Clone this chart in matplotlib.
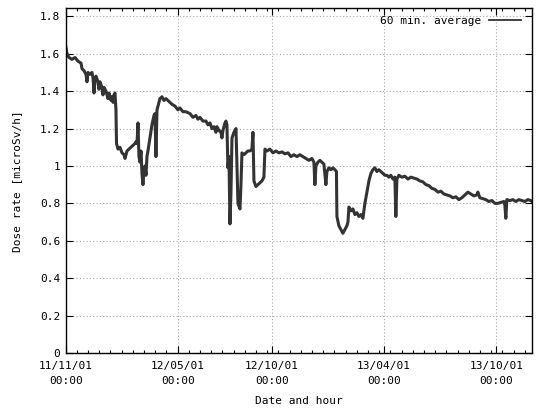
import numpy as np
import pandas as pd
import matplotlib
matplotlib.use("Agg")
import matplotlib.pyplot as plt
import matplotlib.dates as mdates
from matplotlib.ticker import FixedLocator

# days since the start date, and dose rate
start = "2011-11-01"
days = [0.0, 2.1, 5.4, 10.2, 15.1, 20.0, 24.9, 26.5, 29.7, 33.0, 34.6, 36.2, 39.5,
        42.7, 44.4, 46.0, 47.6, 49.2, 52.5, 54.1, 55.7, 59.0, 60.6, 62.2, 65.5, 68.7,
        70.4, 73.6, 75.2, 76.9, 78.5, 80.1, 81.7, 82.6, 85.0, 88.2, 91.5, 94.7, 96.4,
        99.6, 102.9, 106.1, 109.4, 112.6, 114.2, 115.9, 117.5, 119.1, 120.7, 122.4,
        124.0, 125.6, 127.2, 128.9, 130.5, 132.1, 133.7, 137.0, 140.2, 143.5, 145.1,
        146.7, 148.4, 150.0, 153.2, 156.5, 159.7, 163.0, 166.2, 169.5, 172.7, 177.6,
        182.5, 185.7, 190.6, 195.5, 202.0, 206.9, 211.7, 215.0, 218.2, 223.1, 228.0,
        231.2, 234.5, 237.7, 241.0, 244.2, 245.9, 249.1, 252.4, 254.0, 255.6, 258.9,
        260.5, 262.1, 263.7, 265.4, 267.0, 268.6, 270.3, 273.5, 276.8, 278.4, 280.0,
        283.3, 284.9, 286.5, 289.7, 293.0, 296.2, 299.5, 302.7, 304.4, 306.0, 309.2,
        312.5, 315.7, 319.0, 320.6, 322.2, 323.9, 327.1, 332.0, 336.9, 341.8, 346.6,
        351.5, 356.4, 361.3, 366.1, 371.0, 375.9, 380.7, 385.6, 390.5, 395.4, 400.2,
        403.5, 405.1, 406.7, 410.0, 413.2, 416.5, 419.7, 423.0, 424.6, 427.9, 431.1,
        434.4, 437.6, 440.1, 440.9, 444.1, 447.4, 450.6, 453.9, 457.1, 458.8, 460.4,
        463.6, 466.9, 470.1, 473.4, 476.6, 479.9, 483.1, 486.4, 489.6, 492.9, 496.1,
        499.4, 502.6, 505.9, 509.1, 512.4, 515.6, 518.9, 522.1, 525.4, 528.6, 531.9,
        535.1, 536.7, 538.4, 541.6, 546.5, 551.4, 556.3, 561.1, 566.0, 570.9, 575.8,
        580.6, 585.5, 590.4, 595.3, 600.1, 605.0, 609.9, 614.8, 619.6, 624.5, 629.4,
        634.3, 639.1, 644.0, 648.9, 653.8, 658.6, 663.5, 668.4, 670.0, 673.3, 678.1,
        683.0, 687.9, 692.8, 697.6, 702.5, 707.4, 712.3, 713.9, 715.5, 717.1, 722.0,
        726.9, 731.8, 736.6, 741.5, 746.4, 751.3, 756.1, 758.0]
dose = [1.64, 1.60, 1.58, 1.57, 1.58, 1.56, 1.55, 1.52, 1.51, 1.49, 1.45, 1.50, 1.49,
        1.50, 1.47, 1.39, 1.46, 1.48, 1.45, 1.41, 1.45, 1.42, 1.38, 1.42, 1.40, 1.36,
        1.39, 1.35, 1.37, 1.34, 1.38, 1.39, 1.30, 1.12, 1.09, 1.10, 1.07, 1.06, 1.04,
        1.08, 1.09, 1.10, 1.11, 1.12, 1.13, 1.12, 1.23, 1.05, 1.02, 1.08,
        0.96, 0.90, 0.98, 1.00, 0.95, 1.05, 1.08, 1.15, 1.22, 1.27, 1.28,
        1.05, 1.30, 1.32, 1.36, 1.37, 1.35, 1.36, 1.35, 1.34, 1.33, 1.32,
        1.30, 1.31, 1.29, 1.29, 1.28, 1.26, 1.27, 1.25, 1.26, 1.24, 1.24,
        1.22, 1.23, 1.20, 1.21, 1.18, 1.21, 1.19, 1.18, 1.15, 1.19, 1.23,
        1.24, 1.22, 0.99, 1.05, 0.69, 0.85, 1.15, 1.18, 1.20, 1.00, 0.80,
        0.77, 0.90, 1.07, 1.06, 1.07, 1.08, 1.08, 1.09, 1.18, 0.92, 0.89,
        0.90, 0.91, 0.92, 0.93, 0.94, 1.09, 1.08, 1.09, 1.07, 1.08, 1.07,
        1.075, 1.065, 1.07, 1.05, 1.06, 1.05, 1.06, 1.05, 1.04, 1.03, 1.04,
        1.02, 0.90, 1.00, 1.02, 1.03, 1.02, 1.01, 0.90, 0.97, 0.99, 0.98,
        0.99, 0.98, 0.97, 0.73, 0.68, 0.66, 0.64, 0.66, 0.68, 0.70,
        0.78, 0.76, 0.77, 0.74, 0.75, 0.73, 0.74, 0.72, 0.80, 0.86, 0.92, 0.96,
        0.98, 0.99, 0.97, 0.98, 0.97, 0.96, 0.95, 0.95, 0.94, 0.95, 0.93,
        0.94, 0.73, 0.93, 0.95, 0.94, 0.945, 0.93, 0.94, 0.935, 0.93, 0.92,
        0.915, 0.90, 0.895, 0.88, 0.875, 0.86, 0.865, 0.85, 0.845, 0.84, 0.83,
        0.835, 0.82, 0.83, 0.845, 0.86, 0.85, 0.84, 0.845, 0.86, 0.83, 0.825,
        0.82, 0.81, 0.815, 0.80, 0.80, 0.805, 0.81, 0.79, 0.72, 0.82,
        0.815, 0.82, 0.81, 0.82, 0.815, 0.81, 0.82, 0.815, 0.81]

major_dates = ["2011-11-01", "2012-05-01", "2012-10-01", "2013-04-01", "2013-10-01"]
end_days = 758
minor_step_days = 18.2

t0 = pd.Timestamp(start)
times = t0 + pd.to_timedelta(np.array(days), unit="D")

plt.rcParams["font.family"] = ["DejaVu Sans Mono"]
plt.rcParams["font.size"] = 8

fig = plt.figure(figsize=(5.39, 4.09), dpi=100)
ax = fig.add_axes([0.1219, 0.137, 0.8651, 0.8427])

ax.plot(times, dose, color="#333333", linewidth=2.2, label="60 min. average")

ax.set_xlim(t0, t0 + pd.Timedelta(days=end_days))
ax.set_ylim(0, 1.843)

ax.xaxis.set_major_locator(FixedLocator(mdates.date2num(pd.to_datetime(major_dates))))
ax.xaxis.set_major_formatter(mdates.DateFormatter("%y/%m/%d\n%H:%M"))
minor_t = t0 + pd.to_timedelta(np.arange(0, end_days, minor_step_days), unit="D")
ax.xaxis.set_minor_locator(FixedLocator(mdates.date2num(minor_t)))

yt = np.arange(0, 1.81, 0.2)
ax.set_yticks(yt)
ax.set_yticklabels(["%g" % round(v, 1) for v in yt])

ax.tick_params(which="both", direction="in", top=True, right=True, color="black")
ax.tick_params(which="major", length=5, width=0.8, pad=4)
ax.tick_params(which="minor", length=2.5, width=0.8)
ax.tick_params(axis="x", which="major", pad=6)
for lab in ax.get_xticklabels():
    lab.set_ha("center")
    lab.set_linespacing(1.6)

ax.grid(True, which="major", color="#a8a8a8", linestyle=(0, (1, 2)), linewidth=0.8)
for s in ax.spines.values():
    s.set_linewidth(1.0)

ax.set_xlabel("Date and hour", labelpad=7)
ax.set_ylabel("Dose rate [microSv/h]", labelpad=13)

leg = ax.legend(loc="upper right", bbox_to_anchor=(0.998, 1.008), frameon=False,
                markerfirst=False, handlelength=2.9, handletextpad=0.7,
                borderaxespad=0.6, borderpad=0.3)
for h in leg.get_lines():
    h.set_linewidth(1.3)

fig.savefig("out.png", dpi=100)
